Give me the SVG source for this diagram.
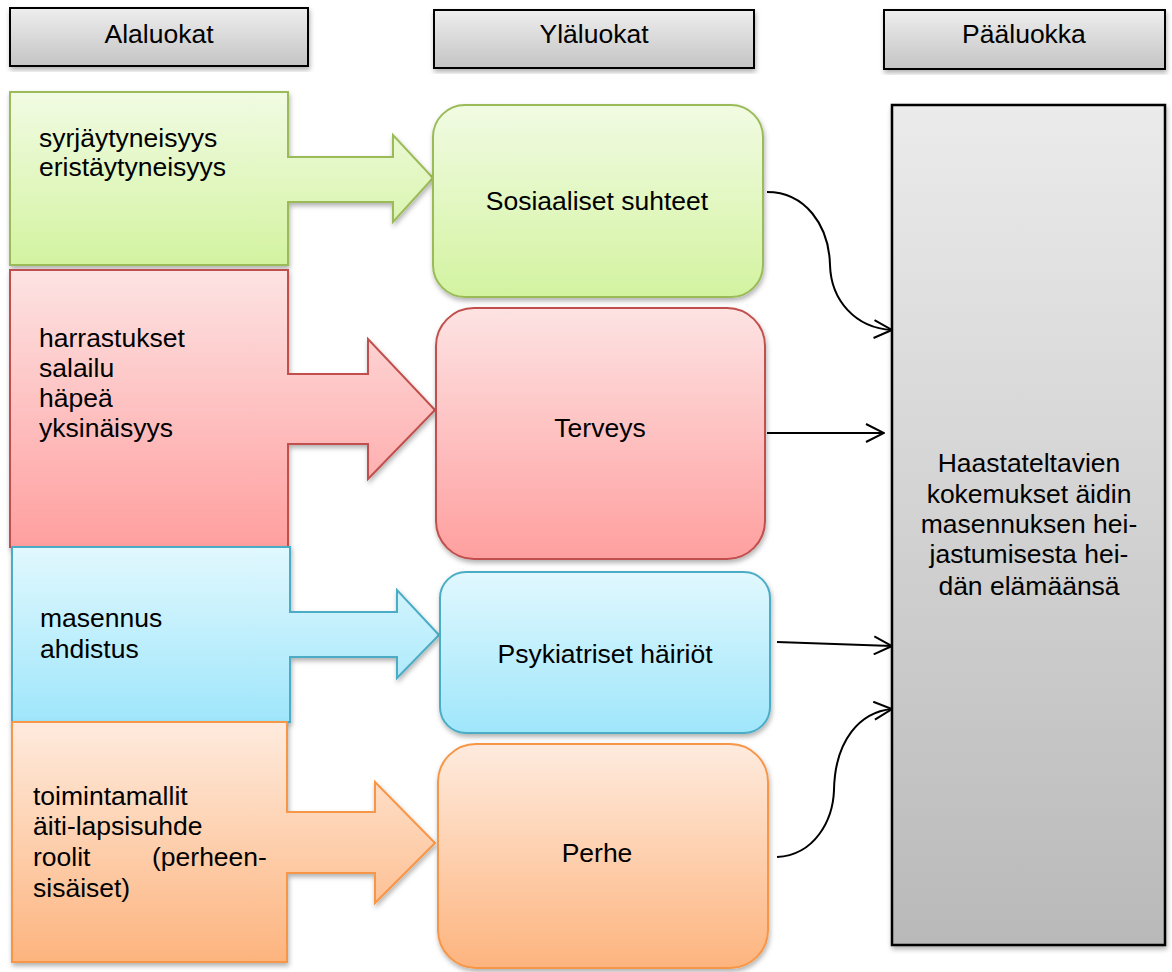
<svg xmlns="http://www.w3.org/2000/svg" width="1172" height="972" viewBox="0 0 1172 972">
<style>
text{font-family:"Liberation Sans",Arial,sans-serif;font-size:26.5px;fill:#000}
.c{text-anchor:middle}
.hdr{fill:url(#gHdr);stroke:#000;stroke-width:2}
.big{fill:url(#gBig);stroke:#000;stroke-width:2.5}
.conn{fill:none;stroke:#000;stroke-width:2;marker-end:url(#open)}
</style>
<defs>
<linearGradient id="gHdr" x1="0" y1="0" x2="0" y2="1"><stop offset="0" stop-color="#eeeeee"/><stop offset="1" stop-color="#c4c4c4"/></linearGradient>
<linearGradient id="gBig" x1="0" y1="0" x2="0" y2="1"><stop offset="0" stop-color="#ebebeb"/><stop offset="1" stop-color="#b9b9b9"/></linearGradient>
<linearGradient id="gG" x1="0" y1="0" x2="0" y2="1"><stop offset="0" stop-color="#f1fbe3"/><stop offset="1" stop-color="#d3f3a0"/></linearGradient>
<linearGradient id="gR" x1="0" y1="0" x2="0" y2="1"><stop offset="0" stop-color="#fde3e3"/><stop offset="1" stop-color="#ff9f9f"/></linearGradient>
<linearGradient id="gB" x1="0" y1="0" x2="0" y2="1"><stop offset="0" stop-color="#e1f8fe"/><stop offset="1" stop-color="#9fe6fb"/></linearGradient>
<linearGradient id="gO" x1="0" y1="0" x2="0" y2="1"><stop offset="0" stop-color="#feebde"/><stop offset="1" stop-color="#fdb47e"/></linearGradient>
<filter id="sh" x="-5%" y="-5%" width="115%" height="115%"><feDropShadow dx="1" dy="3" stdDeviation="2.5" flood-color="#000" flood-opacity="0.3"/></filter>
<marker id="open" viewBox="0 0 20 20" refX="19" refY="10" markerWidth="20" markerHeight="20" markerUnits="userSpaceOnUse" orient="auto"><path d="M1,1 L19,10 L1,19" fill="none" stroke="#000" stroke-width="2"/></marker>
</defs>

<g id="hdr-alaluokat"><rect class="hdr" x="10" y="8" width="298" height="58" filter="url(#sh)"/><text class="c" x="159" y="43">Alaluokat</text></g>
<g id="hdr-ylaluokat"><rect class="hdr" x="434" y="10" width="320" height="58" filter="url(#sh)"/><text class="c" x="594" y="43">Yläluokat</text></g>
<g id="hdr-paaluokka"><rect class="hdr" x="884" y="10" width="281" height="59" filter="url(#sh)"/><text class="c" x="1024" y="43">Pääluokka</text></g>

<g id="sub-green"><path d="M10,92 H288 V157 H393 V135 L433,178 L393,222 V202 H288 V265 H10 Z" fill="url(#gG)" stroke="#9bbb59" stroke-width="2" filter="url(#sh)"/>
<text x="39" y="147">syrjäytyneisyys</text><text x="39" y="176">eristäytyneisyys</text></g>
<g id="sub-red"><path d="M10,270 H288 V374 H368 V339 L435,410 L368,479 V444 H288 V547 H10 Z" fill="url(#gR)" stroke="#c0504d" stroke-width="2" filter="url(#sh)"/>
<text x="39" y="347">harrastukset</text><text x="39" y="377">salailu</text><text x="39" y="407">häpeä</text><text x="39" y="437">yksinäisyys</text></g>
<g id="sub-blue"><path d="M12,547 H290 V612 H397 V590 L439,635 L397,678 V657 H290 V722 H12 Z" fill="url(#gB)" stroke="#4bacc6" stroke-width="2" filter="url(#sh)"/>
<text x="40" y="627">masennus</text><text x="40" y="658">ahdistus</text></g>
<g id="sub-orange"><path d="M12,722 H287 V812 H375 V782 L435,843 L375,903 V873 H287 V962 H12 Z" fill="url(#gO)" stroke="#f79646" stroke-width="2" filter="url(#sh)"/>
<text x="33" y="805">toimintamallit</text><text x="33" y="835">äiti-lapsisuhde</text><text x="33" y="866">roolit</text><text x="152" y="866">(perheen-</text><text x="33" y="897">sisäiset)</text></g>

<g id="cat-sosiaaliset"><rect x="433" y="105" width="330" height="192" rx="32" fill="url(#gG)" stroke="#9bbb59" stroke-width="2" filter="url(#sh)"/><text class="c" x="597" y="210">Sosiaaliset suhteet</text></g>
<g id="cat-terveys"><rect x="436" y="308" width="329" height="251" rx="38" fill="url(#gR)" stroke="#c0504d" stroke-width="2" filter="url(#sh)"/><text class="c" x="600" y="437">Terveys</text></g>
<g id="cat-psyk"><rect x="440" y="572" width="330" height="161" rx="26" fill="url(#gB)" stroke="#4bacc6" stroke-width="2" filter="url(#sh)"/><text class="c" x="605" y="663">Psykiatriset häiriöt</text></g>
<g id="cat-perhe"><rect x="438" y="744" width="330" height="224" rx="38" fill="url(#gO)" stroke="#f79646" stroke-width="2" filter="url(#sh)"/><text class="c" x="597" y="862">Perhe</text></g>

<g id="main"><rect class="big" x="892" y="105" width="273" height="840" filter="url(#sh)"/>
<text class="c" x="1029" y="472">Haastateltavien</text><text class="c" x="1029" y="503">kokemukset äidin</text><text class="c" x="1029" y="533">masennuksen hei-</text><text class="c" x="1029" y="563">jastumisesta hei-</text><text class="c" x="1029" y="595">dän elämäänsä</text></g>

<g id="connectors">
<path class="conn" d="M767,192 C805,192 829,225 830,265 C831,300 855,328 892,330"/>
<path class="conn" d="M767,433 L884,433"/>
<path class="conn" d="M777,642 L892,646"/>
<path class="conn" d="M777,857 C815,855 833,820 834,790 C835,740 860,712 892,709"/>
</g>
</svg>
